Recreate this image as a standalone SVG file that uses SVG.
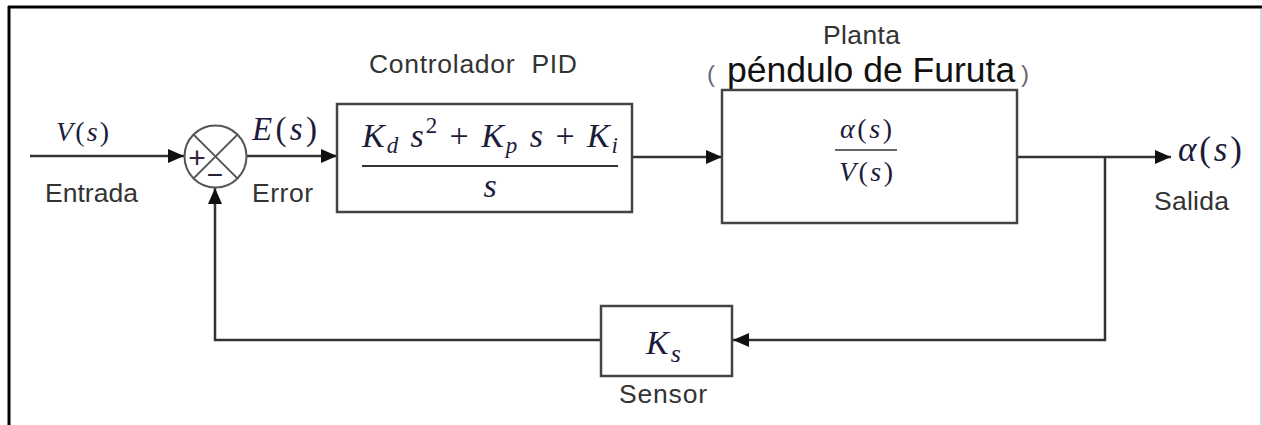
<svg xmlns="http://www.w3.org/2000/svg" width="1262" height="425" viewBox="0 0 1262 425">
<defs>
<marker id="arr" markerWidth="16" markerHeight="14" refX="16" refY="7" orient="auto" markerUnits="userSpaceOnUse">
<path d="M0,0 L16,7 L0,14 Z" fill="#111"/>
</marker>
<style>
.lbl{font-family:"Liberation Sans",Arial,sans-serif;font-size:26.5px;fill:#333}
.m{font-family:"Liberation Serif","DejaVu Serif",serif;fill:#1c1c3a}
.mi{font-style:italic}
.box{fill:#fff;stroke:#444;stroke-width:2.5}
.ln{fill:none;stroke:#333;stroke-width:2.5}
</style>
</defs>
<rect x="0" y="0" width="1262" height="425" fill="#fff"/>
<g id="frame">
<line x1="8" y1="7" x2="1262" y2="7" stroke="#000" stroke-width="3"/>
<line x1="9" y1="6" x2="9" y2="425" stroke="#000" stroke-width="3"/>
<line x1="1261" y1="9" x2="1261" y2="425" stroke="#c8c8c8" stroke-width="1.5"/>
</g>
<g id="connectors">
<line class="ln" x1="30" y1="156" x2="184" y2="156" marker-end="url(#arr)"/>
<line class="ln" x1="247" y1="156" x2="337" y2="156" marker-end="url(#arr)"/>
<line class="ln" x1="632" y1="157" x2="722" y2="157" marker-end="url(#arr)"/>
<line class="ln" x1="1017" y1="157" x2="1171" y2="157" marker-end="url(#arr)"/>
<polyline class="ln" points="1105,157 1105,340 733,340" marker-end="url(#arr)"/>
<polyline class="ln" points="601,340 215,340 215,188" marker-end="url(#arr)"/>
</g>
<g id="input">
<text class="m" x="56" y="141" font-size="28" textLength="53" lengthAdjust="spacing"><tspan class="mi">V</tspan>(<tspan class="mi">s</tspan>)</text>
<text class="lbl" x="45" y="202" textLength="93" lengthAdjust="spacing">Entrada</text>
</g>
<g id="sum">
<circle cx="215.5" cy="156.5" r="31" fill="#fff" stroke="#555" stroke-width="2"/>
<line x1="193.6" y1="134.6" x2="237.4" y2="178.4" stroke="#555" stroke-width="2"/>
<line x1="237.4" y1="134.6" x2="193.6" y2="178.4" stroke="#555" stroke-width="2"/>
<text x="197" y="168" font-family="Liberation Sans,sans-serif" font-size="30" fill="#332244" text-anchor="middle">+</text>
<text x="215" y="184" font-family="Liberation Sans,sans-serif" font-size="28" fill="#223" text-anchor="middle">−</text>
</g>
<g id="error">
<text class="m" x="252" y="140" font-size="33" textLength="65" lengthAdjust="spacing"><tspan class="mi">E</tspan>(<tspan class="mi">s</tspan>)</text>
<text class="lbl" x="252" y="202" textLength="61" lengthAdjust="spacing">Error</text>
</g>
<g id="pid">
<text class="lbl" x="369" y="73" textLength="208" lengthAdjust="spacing" xml:space="preserve">Controlador  PID</text>
<rect class="box" x="337" y="104" width="295" height="108"/>
<text class="m" x="362" y="147" font-size="34" textLength="256" lengthAdjust="spacing"><tspan class="mi">K</tspan><tspan class="mi" font-size="23" dy="6">d</tspan><tspan dy="-6"> </tspan><tspan class="mi">s</tspan><tspan font-size="23" dy="-14">2</tspan><tspan dy="14"> + </tspan><tspan class="mi">K</tspan><tspan class="mi" font-size="23" dy="6">p</tspan><tspan dy="-6"> </tspan><tspan class="mi">s</tspan> + <tspan class="mi">K</tspan><tspan class="mi" font-size="23" dy="6">i</tspan></text>
<line x1="362" y1="166" x2="618" y2="166" stroke="#333" stroke-width="2"/>
<text class="m mi" x="490" y="197" font-size="34" text-anchor="middle">s</text>
</g>
<g id="plant">
<text class="lbl" x="823" y="44" textLength="77" lengthAdjust="spacing">Planta</text>
<text y="82" font-family="Liberation Sans,sans-serif" font-size="35.5" fill="#111"><tspan x="707" font-size="24" fill="#667">(</tspan><tspan x="727">péndulo de Furuta</tspan><tspan x="1021" font-size="24" fill="#667">)</tspan></text>
<rect class="box" x="722" y="90" width="295" height="133"/>
<text class="m" x="840" y="138" font-size="28" textLength="52" lengthAdjust="spacing"><tspan class="mi">α</tspan>(<tspan class="mi">s</tspan>)</text>
<line x1="835" y1="150" x2="897" y2="150" stroke="#333" stroke-width="1.5"/>
<text class="m" x="839" y="181" font-size="28" textLength="54" lengthAdjust="spacing"><tspan class="mi">V</tspan>(<tspan class="mi">s</tspan>)</text>
</g>
<g id="output">
<text class="m" x="1178" y="161" font-size="35" textLength="64" lengthAdjust="spacing"><tspan class="mi">α</tspan>(<tspan class="mi">s</tspan>)</text>
<text class="lbl" x="1154" y="210" textLength="75" lengthAdjust="spacing">Salida</text>
</g>
<g id="sensor">
<rect class="box" x="601" y="306" width="131" height="70"/>
<text class="m" x="646" y="354" font-size="34"><tspan class="mi">K</tspan><tspan class="mi" font-size="26" dx="2" dy="8">s</tspan></text>
<text class="lbl" x="619" y="403" textLength="88" lengthAdjust="spacing">Sensor</text>
</g>
</svg>
